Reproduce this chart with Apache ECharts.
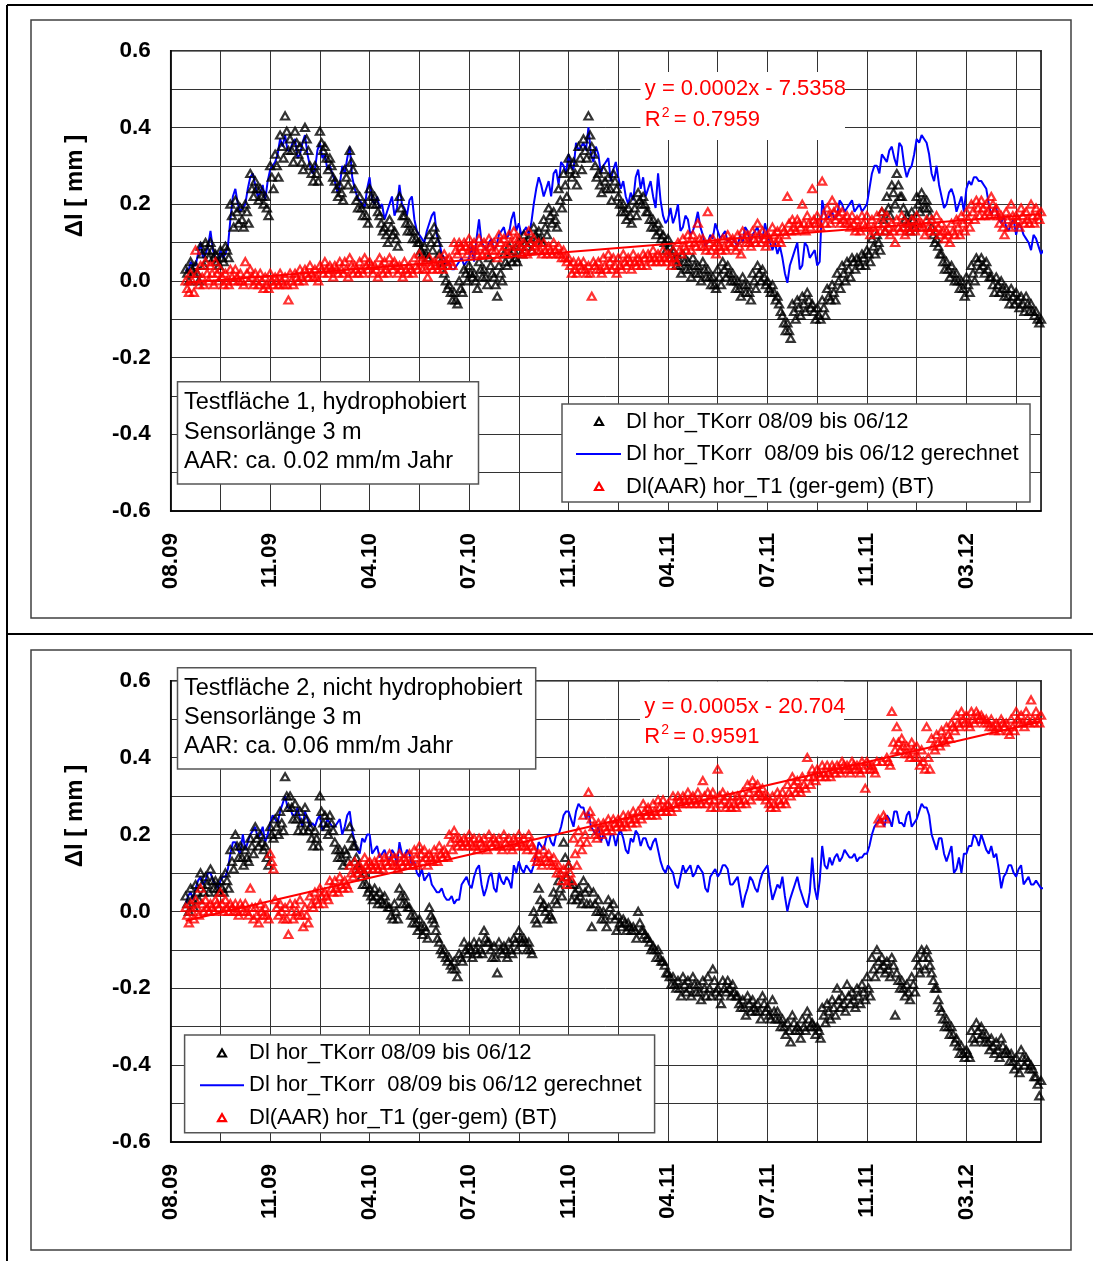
<!DOCTYPE html>
<html><head><meta charset="utf-8">
<script src="https://cdn.jsdelivr.net/npm/echarts/dist/echarts.min.js"></script>
<style>html,body{margin:0;padding:0;background:#fff;}#c{width:1093px;height:1261px;}</style>
</head><body><div id="c"></div>
<script>
// ---------------- DATA ----------------
const xTickLabels = ['08.09','11.09','04.10','07.10','11.10','04.11','07.11','11.11','03.12'];
const dayStart = 18;   // first sample (days after the 08.09 axis origin)
const dayStep = 6;     // spacing of the read-off sample groups (days)
const legendNames = ['Dl hor_TKorr 08/09 bis 06/12','Dl hor_TKorr  08/09 bis 06/12 gerechnet','Dl(AAR) hor_T1 (ger-gem) (BT)'];

// ===== Panel 1 (Testfläche 1, hydrophobiert) =====
// black triangles: upper edge (day d), middle (d+2), lower edge (d+4) of the scatter band
const top_blackHi = [
0.03,0.05,0.04,0.09,0.10,0.10,0.07,0.08,0.09,0.20,
0.21,0.19,0.20,0.28,0.26,0.24,0.22,0.30,0.33,0.38,
0.43,0.37,0.39,0.35,0.40,0.30,0.30,0.39,0.35,0.32,
0.26,0.25,0.29,0.34,0.24,0.22,0.20,0.24,0.22,0.17,
0.14,0.16,0.13,0.22,0.17,0.15,0.13,0.10,0.09,0.12,
0.14,0.07,0.02,-0.01,-0.03,0.00,0.03,0.04,0.02,0.05,
0.03,0.06,0.01,0.04,0.07,0.09,0.08,0.10,0.12,0.11,
0.14,0.13,0.16,0.19,0.18,0.24,0.28,0.32,0.31,0.35,
0.37,0.43,0.33,0.28,0.29,0.27,0.28,0.22,0.20,0.19,
0.21,0.23,0.22,0.18,0.16,0.15,0.12,0.11,0.08,0.06,
0.07,0.05,0.06,0.04,0.05,0.03,0.01,0.03,0.05,0.04,
0.02,0.00,0.01,-0.01,0.02,0.04,0.03,0.00,-0.01,-0.04,
-0.09,-0.11,-0.06,-0.05,-0.04,-0.03,-0.06,-0.07,-0.05,-0.02,
-0.01,0.02,0.04,0.05,0.06,0.06,0.07,0.08,0.11,0.12,
0.18,0.22,0.25,0.28,0.22,0.17,0.18,0.22,0.23,0.21,
0.14,0.11,0.07,0.05,0.04,0.02,0.00,0.01,0.04,0.06,
0.06,0.05,0.01,0.01,0.00,-0.02,-0.02,-0.03,-0.04,-0.04,
-0.06,-0.08,-0.10];
const top_blackMid = [
0.02,0.03,0.02,0.07,0.08,0.08,0.05,0.06,0.08,0.17,
0.18,0.16,0.18,0.24,0.24,0.22,0.19,0.27,0.30,0.35,
0.39,0.34,0.36,0.31,0.37,0.28,0.28,0.36,0.32,0.30,
0.24,0.23,0.27,0.31,0.21,0.19,0.17,0.22,0.20,0.15,
0.12,0.14,0.11,0.19,0.15,0.13,0.11,0.08,0.07,0.10,
0.12,0.05,0.00,-0.03,-0.05,-0.02,0.02,0.02,0.00,0.03,
0.01,0.04,-0.01,0.02,0.05,0.07,0.06,0.09,0.10,0.10,
0.12,0.11,0.14,0.17,0.16,0.21,0.25,0.29,0.28,0.32,
0.34,0.38,0.30,0.25,0.26,0.24,0.26,0.20,0.18,0.17,
0.19,0.21,0.20,0.16,0.14,0.13,0.10,0.09,0.06,0.04,
0.05,0.03,0.04,0.02,0.03,0.01,-0.01,0.01,0.03,0.02,
0.00,-0.02,-0.01,-0.03,0.00,0.02,0.01,-0.02,-0.03,-0.06,
-0.11,-0.13,-0.08,-0.07,-0.06,-0.05,-0.08,-0.09,-0.07,-0.04,
-0.03,0.00,0.02,0.03,0.05,0.05,0.06,0.07,0.09,0.10,
0.16,0.19,0.23,0.25,0.19,0.15,0.16,0.20,0.21,0.19,
0.12,0.09,0.05,0.03,0.02,0.00,-0.02,-0.01,0.02,0.05,
0.04,0.03,-0.01,-0.01,-0.02,-0.04,-0.04,-0.05,-0.06,-0.06,
-0.08,-0.10,-0.11];
const top_blackLo = [
0.00,0.02,0.00,0.04,0.06,0.06,0.04,0.05,0.06,0.14,
0.15,0.14,0.15,0.22,0.21,0.20,0.17,0.24,0.27,0.32,
0.34,0.31,0.33,0.29,0.34,0.26,0.26,0.34,0.29,0.27,
0.22,0.21,0.25,0.29,0.19,0.17,0.15,0.20,0.18,0.13,
0.10,0.12,0.09,0.17,0.13,0.11,0.10,0.07,0.06,0.08,
0.10,0.04,-0.02,-0.05,-0.06,-0.03,0.00,0.01,-0.02,0.01,
-0.01,0.02,-0.04,0.00,0.04,0.05,0.05,0.07,0.09,0.08,
0.11,0.10,0.12,0.15,0.14,0.19,0.22,0.27,0.25,0.29,
0.32,0.35,0.27,0.23,0.24,0.21,0.24,0.18,0.16,0.15,
0.17,0.20,0.18,0.14,0.12,0.11,0.08,0.07,0.04,0.02,
0.03,0.01,0.02,0.00,0.01,-0.01,-0.02,-0.01,0.01,0.00,
-0.02,-0.04,-0.03,-0.05,-0.02,0.00,-0.01,-0.03,-0.05,-0.08,
-0.13,-0.15,-0.10,-0.09,-0.08,-0.07,-0.10,-0.10,-0.09,-0.05,
-0.05,-0.02,0.00,0.01,0.03,0.04,0.04,0.05,0.07,0.08,
0.13,0.17,0.20,0.22,0.16,0.13,0.14,0.18,0.19,0.17,
0.10,0.07,0.03,0.01,0.00,-0.02,-0.04,-0.03,0.00,0.03,
0.02,0.01,-0.03,-0.03,-0.04,-0.06,-0.06,-0.07,-0.08,-0.08,
-0.09,-0.11,-0.11];
// blue line: readings at day d and d+3
const top_blueA = [
0.03,0.05,0.04,0.10,0.07,0.13,0.06,0.08,0.07,0.16,
0.24,0.18,0.20,0.27,0.25,0.23,0.21,0.29,0.31,0.37,
0.38,0.34,0.37,0.33,0.38,0.30,0.29,0.36,0.33,0.30,
0.26,0.25,0.28,0.35,0.24,0.21,0.19,0.27,0.20,0.19,
0.16,0.20,0.17,0.25,0.19,0.21,0.16,0.12,0.10,0.15,
0.18,0.10,0.06,0.05,0.03,0.05,0.04,0.06,0.05,0.16,
0.09,0.10,0.08,0.12,0.14,0.12,0.18,0.15,0.13,0.12,
0.20,0.27,0.22,0.26,0.28,0.25,0.30,0.33,0.29,0.34,
0.36,0.40,0.31,0.33,0.30,0.32,0.29,0.27,0.26,0.20,
0.21,0.29,0.27,0.24,0.22,0.28,0.17,0.16,0.15,0.20,
0.14,0.16,0.13,0.18,0.12,0.10,0.11,0.13,0.12,0.10,
0.11,0.09,0.10,0.13,0.12,0.14,0.11,0.12,0.08,0.07,
0.06,-0.005,0.06,0.10,0.04,0.09,0.07,0.04,0.21,0.16,
0.18,0.17,0.20,0.19,0.21,0.19,0.18,0.20,0.28,0.30,
0.33,0.31,0.35,0.30,0.35,0.27,0.30,0.37,0.38,0.36,
0.28,0.30,0.22,0.20,0.24,0.18,0.22,0.24,0.25,0.27,
0.26,0.24,0.17,0.19,0.15,0.14,0.15,0.12,0.14,0.11,
0.08,0.11,0.07];
const top_blueB = [
0.02,0.04,0.07,0.06,0.09,0.08,0.05,0.06,0.09,0.22,
0.20,0.19,0.24,0.28,0.22,0.25,0.26,0.30,0.33,0.35,
0.34,0.36,0.32,0.36,0.33,0.28,0.34,0.32,0.29,0.28,
0.23,0.30,0.32,0.27,0.22,0.20,0.24,0.21,0.22,0.20,
0.18,0.22,0.19,0.20,0.17,0.22,0.13,0.11,0.13,0.17,
0.12,0.07,0.04,0.03,0.04,0.06,0.05,0.09,0.11,0.10,
0.08,0.11,0.09,0.13,0.11,0.16,0.13,0.12,0.14,0.15,
0.24,0.25,0.24,0.22,0.29,0.31,0.28,0.30,0.36,0.35,
0.34,0.33,0.35,0.28,0.31,0.26,0.31,0.24,0.22,0.23,
0.27,0.24,0.22,0.26,0.19,0.21,0.15,0.19,0.17,0.13,
0.17,0.12,0.15,0.14,0.09,0.12,0.15,0.11,0.13,0.11,
0.10,0.12,0.14,0.10,0.13,0.11,0.15,0.10,0.10,0.09,
0.02,0.04,0.08,0.03,0.10,0.06,0.08,0.05,0.18,0.17,
0.16,0.21,0.18,0.20,0.18,0.20,0.19,0.24,0.30,0.28,
0.32,0.34,0.32,0.36,0.30,0.29,0.33,0.36,0.37,0.33,
0.26,0.25,0.19,0.23,0.22,0.20,0.18,0.26,0.27,0.26,
0.25,0.20,0.19,0.16,0.17,0.13,0.16,0.15,0.12,0.10,
0.12,0.09,0.08];
// red triangles: upper / middle / lower readings
const top_redHi = [
0.00,0.02,0.08,0.04,0.05,0.04,0.05,0.03,0.02,0.03,
0.03,0.02,0.05,0.03,0.02,0.02,0.01,0.02,0.01,0.02,
0.01,0.02,0.02,0.03,0.03,0.04,0.03,0.04,0.05,0.04,
0.04,0.05,0.05,0.06,0.04,0.05,0.06,0.05,0.04,0.06,
0.05,0.06,0.05,0.04,0.05,0.04,0.06,0.07,0.05,0.06,
0.05,0.06,0.07,0.06,0.10,0.10,0.10,0.11,0.10,0.11,
0.10,0.11,0.10,0.12,0.11,0.12,0.13,0.11,0.10,0.13,
0.11,0.10,0.10,0.09,0.10,0.09,0.08,0.06,0.05,0.05,
0.05,0.04,0.05,0.05,0.06,0.07,0.06,0.06,0.07,0.06,
0.07,0.06,0.07,0.07,0.08,0.07,0.08,0.07,0.08,0.10,
0.11,0.12,0.12,0.15,0.11,0.18,0.11,0.10,0.11,0.12,
0.11,0.12,0.13,0.12,0.13,0.15,0.13,0.12,0.14,0.13,
0.14,0.22,0.16,0.16,0.20,0.17,0.24,0.17,0.26,0.19,
0.21,0.19,0.18,0.17,0.17,0.16,0.17,0.17,0.16,0.17,
0.18,0.17,0.15,0.16,0.17,0.15,0.16,0.17,0.15,0.16,
0.16,0.17,0.15,0.13,0.15,0.16,0.17,0.18,0.20,0.21,
0.21,0.20,0.22,0.19,0.17,0.18,0.20,0.17,0.19,0.18,
0.20,0.19,0.18];
const top_redMid = [
-0.02,0.00,0.02,0.01,0.02,0.02,0.02,0.01,0.00,0.01,
0.01,0.00,0.02,0.01,0.00,0.00,-0.01,0.00,0.00,0.00,
-0.01,0.00,0.01,0.01,0.02,0.02,0.01,0.03,0.03,0.03,
0.03,0.03,0.03,0.04,0.03,0.03,0.04,0.04,0.03,0.04,
0.03,0.04,0.04,0.03,0.03,0.03,0.04,0.05,0.03,0.04,
0.04,0.04,0.05,0.05,0.08,0.09,0.09,0.09,0.08,0.09,
0.08,0.09,0.08,0.10,0.09,0.10,0.11,0.09,0.08,0.10,
0.09,0.08,0.08,0.08,0.08,0.07,0.06,0.04,0.03,0.04,
0.03,0.02,0.04,0.03,0.04,0.05,0.04,0.04,0.05,0.05,
0.05,0.05,0.06,0.06,0.06,0.06,0.06,0.06,0.06,0.08,
0.09,0.10,0.10,0.11,0.09,0.10,0.09,0.09,0.09,0.10,
0.10,0.09,0.11,0.10,0.11,0.12,0.11,0.11,0.12,0.11,
0.13,0.15,0.14,0.15,0.15,0.15,0.16,0.15,0.17,0.17,
0.18,0.17,0.16,0.15,0.15,0.14,0.15,0.14,0.14,0.15,
0.15,0.14,0.13,0.14,0.14,0.14,0.14,0.15,0.14,0.14,
0.14,0.14,0.13,0.12,0.13,0.14,0.15,0.16,0.18,0.19,
0.19,0.18,0.20,0.17,0.14,0.16,0.17,0.16,0.17,0.16,
0.17,0.17,0.17];
const top_redLo = [
-0.03,-0.03,-0.01,-0.01,0.00,-0.01,0.00,-0.01,-0.01,0.00,
0.00,-0.01,0.00,-0.01,-0.01,-0.02,-0.02,-0.01,-0.01,-0.01,
-0.05,-0.01,0.00,0.00,0.01,0.01,0.00,0.02,0.02,0.01,
0.02,0.02,0.01,0.02,0.02,0.02,0.03,0.02,0.01,0.02,
0.02,0.03,0.02,0.01,0.02,0.02,0.03,0.03,0.01,0.03,
0.03,0.03,0.04,0.04,0.07,0.08,0.07,0.08,0.07,0.07,
0.07,0.08,0.06,0.08,0.07,0.08,0.09,0.07,0.07,0.08,
0.08,0.07,0.07,0.07,0.07,0.06,0.05,0.02,0.02,0.03,
0.02,-0.04,0.03,0.02,0.03,0.03,0.02,0.03,0.04,0.03,
0.04,0.04,0.04,0.05,0.05,0.05,0.05,0.04,0.05,0.07,
0.08,0.08,0.09,0.09,0.08,0.08,0.07,0.08,0.08,0.09,
0.08,0.07,0.10,0.09,0.10,0.10,0.09,0.10,0.10,0.10,
0.12,0.13,0.13,0.14,0.13,0.14,0.15,0.14,0.15,0.15,
0.16,0.15,0.15,0.14,0.13,0.13,0.14,0.12,0.13,0.13,
0.13,0.12,0.10,0.13,0.12,0.13,0.13,0.14,0.12,0.13,
0.13,0.12,0.11,0.10,0.12,0.12,0.13,0.14,0.16,0.17,
0.17,0.17,0.18,0.15,0.12,0.14,0.15,0.14,0.15,0.15,
0.15,0.16,0.16];

// ===== Panel 2 (Testfläche 2, nicht hydrophobiert) =====
const bot_blackHi = [
0.04,0.06,0.07,0.10,0.09,0.11,0.08,0.08,0.10,0.16,
0.20,0.17,0.16,0.19,0.22,0.20,0.17,0.22,0.24,0.26,
0.35,0.30,0.28,0.26,0.27,0.22,0.21,0.30,0.25,0.25,
0.18,0.16,0.16,0.22,0.17,0.11,0.10,0.06,0.06,0.05,
0.04,0.01,0.02,0.06,0.04,0.01,-0.01,-0.02,-0.04,0.01,
-0.03,-0.08,-0.10,-0.12,-0.13,-0.11,-0.08,-0.09,-0.08,-0.08,
-0.05,-0.08,-0.09,-0.08,-0.09,-0.08,-0.07,-0.05,-0.07,-0.08,
0.00,0.06,0.02,0.01,0.05,0.08,0.18,0.12,0.07,0.06,
0.08,0.06,0.05,0.03,0.00,0.03,0.02,-0.01,-0.02,-0.03,
-0.04,0.00,-0.05,-0.07,-0.09,-0.10,-0.13,-0.16,-0.17,-0.18,
-0.17,-0.18,-0.17,-0.19,-0.18,-0.17,-0.15,-0.20,-0.18,-0.18,
-0.19,-0.22,-0.23,-0.22,-0.23,-0.24,-0.22,-0.25,-0.23,-0.26,
-0.28,-0.29,-0.27,-0.30,-0.28,-0.26,-0.29,-0.30,-0.25,-0.24,
-0.23,-0.20,-0.22,-0.19,-0.21,-0.20,-0.19,-0.17,-0.12,-0.10,
-0.12,-0.13,-0.12,-0.16,-0.18,-0.19,-0.17,-0.12,-0.10,-0.10,
-0.16,-0.20,-0.26,-0.28,-0.30,-0.33,-0.35,-0.36,-0.31,-0.29,
-0.30,-0.32,-0.33,-0.34,-0.33,-0.36,-0.37,-0.38,-0.36,-0.38,
-0.40,-0.43,-0.44];
const bot_blackMid = [
0.02,0.03,0.05,0.07,0.07,0.08,0.06,0.06,0.08,0.13,
0.17,0.14,0.14,0.17,0.19,0.18,0.14,0.20,0.22,0.23,
0.30,0.27,0.24,0.23,0.24,0.19,0.19,0.26,0.22,0.23,
0.16,0.14,0.15,0.19,0.14,0.09,0.07,0.04,0.04,0.03,
0.02,-0.01,0.00,0.04,0.02,-0.01,-0.03,-0.04,-0.05,-0.01,
-0.05,-0.10,-0.12,-0.14,-0.15,-0.12,-0.10,-0.10,-0.10,-0.10,
-0.07,-0.10,-0.12,-0.10,-0.10,-0.10,-0.08,-0.07,-0.08,-0.10,
-0.02,0.03,0.00,-0.01,0.03,0.06,0.14,0.07,0.05,0.04,
0.05,0.02,0.02,0.00,-0.02,0.01,-0.02,-0.03,-0.03,-0.04,
-0.05,-0.03,-0.06,-0.08,-0.10,-0.12,-0.14,-0.17,-0.19,-0.20,
-0.19,-0.20,-0.19,-0.21,-0.20,-0.20,-0.18,-0.22,-0.20,-0.20,
-0.21,-0.24,-0.25,-0.24,-0.25,-0.26,-0.24,-0.27,-0.26,-0.28,
-0.30,-0.31,-0.29,-0.31,-0.30,-0.28,-0.30,-0.31,-0.27,-0.26,
-0.25,-0.23,-0.24,-0.22,-0.23,-0.22,-0.21,-0.20,-0.15,-0.13,
-0.14,-0.15,-0.14,-0.18,-0.20,-0.21,-0.19,-0.14,-0.12,-0.12,
-0.18,-0.23,-0.28,-0.30,-0.32,-0.35,-0.37,-0.37,-0.33,-0.31,
-0.32,-0.34,-0.35,-0.36,-0.35,-0.37,-0.39,-0.40,-0.38,-0.39,
-0.41,-0.45,-0.45];
const bot_blackLo = [
0.00,0.01,0.03,0.05,0.05,0.06,0.05,0.05,0.06,0.11,
0.14,0.12,0.13,0.15,0.17,0.16,0.12,0.19,0.20,0.21,
0.27,0.24,0.21,0.21,0.21,0.17,0.17,0.23,0.20,0.21,
0.14,0.12,0.13,0.17,0.12,0.07,0.05,0.03,0.02,0.02,
0.01,-0.02,-0.02,0.02,0.01,-0.03,-0.05,-0.06,-0.07,-0.02,
-0.07,-0.11,-0.13,-0.15,-0.17,-0.13,-0.11,-0.12,-0.11,-0.11,
-0.08,-0.12,-0.16,-0.11,-0.12,-0.11,-0.10,-0.08,-0.10,-0.11,
-0.03,0.01,-0.02,-0.02,0.02,0.04,0.09,0.03,0.03,0.02,
0.02,-0.04,0.00,-0.02,-0.04,-0.01,-0.05,-0.04,-0.05,-0.05,
-0.07,-0.05,-0.07,-0.10,-0.12,-0.13,-0.16,-0.19,-0.20,-0.22,
-0.21,-0.22,-0.21,-0.23,-0.22,-0.22,-0.21,-0.24,-0.21,-0.22,
-0.22,-0.25,-0.27,-0.26,-0.26,-0.28,-0.26,-0.28,-0.28,-0.30,
-0.32,-0.34,-0.31,-0.33,-0.31,-0.30,-0.32,-0.33,-0.29,-0.28,
-0.27,-0.25,-0.26,-0.24,-0.25,-0.24,-0.23,-0.22,-0.17,-0.15,
-0.16,-0.17,-0.27,-0.20,-0.22,-0.23,-0.21,-0.16,-0.15,-0.14,
-0.20,-0.25,-0.30,-0.32,-0.34,-0.37,-0.38,-0.38,-0.34,-0.33,
-0.34,-0.36,-0.37,-0.38,-0.37,-0.39,-0.41,-0.42,-0.40,-0.41,
-0.43,-0.48,-0.46];
const bot_blueA = [
0.02,0.05,0.06,0.09,0.08,0.10,0.07,0.08,0.09,0.15,
0.18,0.15,0.16,0.20,0.22,0.20,0.18,0.23,0.24,0.26,
0.30,0.27,0.25,0.24,0.26,0.22,0.22,0.25,0.22,0.23,
0.22,0.24,0.22,0.26,0.18,0.15,0.18,0.20,0.16,0.14,
0.16,0.13,0.15,0.18,0.14,0.15,0.13,0.09,0.08,0.10,
0.06,0.05,0.04,0.03,0.02,0.03,0.08,0.07,0.09,0.12,
0.04,0.09,0.06,0.10,0.07,0.08,0.12,0.13,0.10,0.11,
0.12,0.18,0.16,0.20,0.17,0.20,0.25,0.26,0.22,0.28,
0.27,0.26,0.21,0.22,0.20,0.17,0.20,0.20,0.19,0.15,
0.18,0.20,0.19,0.17,0.18,0.16,0.11,0.12,0.10,0.06,
0.12,0.11,0.09,0.12,0.10,0.05,0.10,0.09,0.12,0.11,
0.07,0.09,0.01,0.06,0.08,0.05,0.10,0.12,0.03,0.07,
0.09,0.00,0.05,0.09,0.04,0.01,0.14,0.03,0.17,0.11,
0.12,0.15,0.14,0.15,0.14,0.13,0.14,0.15,0.20,0.23,
0.24,0.25,0.22,0.26,0.23,0.25,0.22,0.24,0.28,0.27,
0.20,0.16,0.19,0.13,0.17,0.11,0.10,0.15,0.17,0.19,
0.20,0.16,0.17,0.15,0.06,0.10,0.12,0.09,0.12,0.08,
0.07,0.08,0.06];
const bot_blueB = [
0.04,0.03,0.08,0.07,0.10,0.08,0.06,0.09,0.11,0.18,
0.16,0.20,0.18,0.21,0.19,0.22,0.20,0.25,0.23,0.28,
0.27,0.25,0.27,0.22,0.24,0.23,0.24,0.21,0.24,0.22,
0.23,0.20,0.25,0.21,0.16,0.19,0.20,0.15,0.17,0.15,
0.14,0.16,0.12,0.15,0.16,0.12,0.10,0.11,0.09,0.07,
0.05,0.06,0.03,0.04,0.03,0.07,0.09,0.06,0.11,0.07,
0.06,0.10,0.05,0.08,0.09,0.06,0.10,0.11,0.12,0.10,
0.15,0.17,0.19,0.18,0.20,0.22,0.26,0.24,0.26,0.27,
0.24,0.22,0.20,0.18,0.19,0.20,0.17,0.21,0.16,0.19,
0.21,0.17,0.19,0.16,0.19,0.13,0.10,0.11,0.07,0.09,
0.10,0.12,0.10,0.11,0.06,0.09,0.11,0.10,0.12,0.07,
0.08,0.05,0.04,0.09,0.06,0.08,0.11,0.07,0.05,0.06,
0.04,0.03,0.07,0.06,0.02,0.05,0.06,0.08,0.12,0.14,
0.14,0.13,0.16,0.14,0.15,0.14,0.15,0.17,0.22,0.24,
0.22,0.24,0.26,0.23,0.22,0.26,0.23,0.26,0.27,0.25,
0.18,0.19,0.15,0.15,0.10,0.14,0.15,0.17,0.20,0.17,
0.18,0.15,0.14,0.11,0.09,0.12,0.10,0.11,0.07,0.09,
0.07,0.07,0.06];
const bot_redHi = [
0.01,0.02,0.03,0.06,0.03,0.02,0.03,0.05,0.03,0.02,
0.02,0.02,0.02,0.06,0.01,0.02,0.01,0.15,0.03,0.02,
0.01,0.02,0.02,0.03,0.01,0.04,0.05,0.06,0.05,0.08,
0.08,0.09,0.08,0.12,0.13,0.12,0.14,0.13,0.13,0.14,
0.14,0.15,0.14,0.15,0.14,0.15,0.16,0.17,0.16,0.15,
0.16,0.17,0.16,0.20,0.21,0.19,0.19,0.20,0.19,0.19,
0.19,0.20,0.19,0.19,0.20,0.19,0.19,0.20,0.19,0.20,
0.16,0.15,0.16,0.15,0.14,0.12,0.11,0.12,0.19,0.21,
0.25,0.31,0.22,0.23,0.23,0.24,0.24,0.24,0.25,0.25,
0.26,0.26,0.28,0.27,0.28,0.29,0.29,0.28,0.30,0.30,
0.30,0.31,0.30,0.31,0.34,0.31,0.31,0.37,0.31,0.30,
0.30,0.30,0.31,0.33,0.34,0.33,0.32,0.30,0.30,0.31,
0.31,0.33,0.35,0.34,0.35,0.40,0.37,0.37,0.38,0.38,
0.38,0.38,0.39,0.38,0.39,0.38,0.39,0.39,0.38,0.39,
0.39,0.40,0.52,0.48,0.45,0.43,0.44,0.43,0.42,0.48,
0.45,0.46,0.47,0.48,0.49,0.51,0.52,0.51,0.52,0.52,
0.51,0.50,0.50,0.49,0.50,0.49,0.50,0.52,0.51,0.52,
0.55,0.52,0.51];
const bot_redMid = [
-0.01,0.00,0.01,0.02,0.01,0.01,0.02,0.02,0.01,0.01,
0.00,0.01,0.00,0.01,-0.01,0.00,-0.01,0.13,0.01,0.00,
-0.02,0.00,0.00,-0.01,-0.01,0.02,0.03,0.04,0.04,0.06,
0.06,0.07,0.07,0.10,0.11,0.11,0.12,0.12,0.12,0.12,
0.13,0.13,0.12,0.13,0.13,0.13,0.14,0.15,0.14,0.14,
0.14,0.15,0.15,0.18,0.19,0.18,0.18,0.18,0.17,0.18,
0.17,0.18,0.18,0.17,0.18,0.17,0.18,0.18,0.17,0.18,
0.14,0.13,0.14,0.13,0.12,0.10,0.09,0.10,0.15,0.18,
0.20,0.26,0.20,0.21,0.22,0.22,0.23,0.23,0.23,0.24,
0.24,0.25,0.26,0.26,0.26,0.27,0.27,0.27,0.28,0.29,
0.29,0.29,0.29,0.29,0.30,0.29,0.29,0.30,0.29,0.28,
0.28,0.29,0.29,0.31,0.32,0.31,0.30,0.28,0.28,0.29,
0.29,0.31,0.33,0.32,0.33,0.35,0.35,0.36,0.36,0.36,
0.37,0.37,0.38,0.37,0.38,0.37,0.37,0.38,0.37,0.24,
0.25,0.39,0.44,0.44,0.43,0.41,0.42,0.40,0.39,0.40,
0.43,0.44,0.45,0.46,0.48,0.49,0.50,0.49,0.50,0.51,
0.50,0.49,0.48,0.48,0.49,0.47,0.48,0.50,0.49,0.50,
0.50,0.50,0.50];
const bot_redLo = [
-0.03,-0.02,-0.01,0.00,0.00,0.00,0.01,0.00,0.00,0.00,
-0.01,0.00,-0.01,-0.02,-0.03,-0.01,-0.02,0.11,-0.01,-0.02,
-0.06,-0.02,-0.01,-0.04,-0.03,0.01,0.02,0.02,0.03,0.05,
0.05,0.06,0.06,0.09,0.10,0.10,0.11,0.11,0.11,0.11,
0.12,0.12,0.11,0.12,0.12,0.12,0.12,0.13,0.12,0.13,
0.13,0.14,0.14,0.16,0.17,0.17,0.17,0.17,0.16,0.17,
0.16,0.17,0.17,0.16,0.17,0.16,0.17,0.17,0.16,0.17,
0.13,0.12,0.13,0.12,0.10,0.08,0.07,0.08,0.12,0.16,
0.18,0.24,0.19,0.20,0.21,0.21,0.22,0.22,0.22,0.23,
0.23,0.24,0.25,0.25,0.25,0.26,0.26,0.26,0.27,0.28,
0.28,0.28,0.28,0.28,0.28,0.27,0.27,0.28,0.27,0.27,
0.27,0.28,0.28,0.29,0.30,0.30,0.29,0.27,0.27,0.28,
0.28,0.30,0.31,0.31,0.32,0.33,0.34,0.35,0.35,0.35,
0.36,0.36,0.37,0.36,0.37,0.36,0.32,0.37,0.36,0.23,
0.24,0.38,0.42,0.42,0.41,0.40,0.40,0.38,0.37,0.37,
0.42,0.43,0.44,0.45,0.47,0.48,0.49,0.48,0.49,0.50,
0.49,0.48,0.47,0.47,0.48,0.46,0.47,0.49,0.48,0.49,
0.49,0.49,0.49];

// ---------------- BUILD ----------------
function dayOf(i){ return dayStart + i*dayStep; }
function linePts(a, b){ const o=[]; for(let i=0;i<a.length;i++){ o.push([dayOf(i),a[i]]); o.push([dayOf(i)+dayStep/2,b[i]]); } return o; }
function bandPts(hi, mid, lo){ const o=[]; for(let i=0;i<hi.length;i++){ const d=dayOf(i); o.push([d,hi[i]]); o.push([d+2,mid[i]]); o.push([d+4,lo[i]]); } return o; }
function trend(p){
  let n=p.length,sx=0,sy=0,sxx=0,sxy=0;
  for(const [x,y] of p){sx+=x;sy+=y;sxx+=x*x;sxy+=x*y;}
  const b=(n*sxy-sx*sy)/(n*sxx-sx*sx), a=(sy-b*sx)/n;
  let x0=Infinity,x1=-Infinity; for(const [x] of p){ if(x<x0)x0=x; if(x>x1)x1=x; }
  x1=Math.min(x1,1050);
  return [[x0,a+b*x0],[x1,a+b*x1]];
}

const AX_FONT = 'Liberation Sans, Arial, sans-serif';
const TX_FONT = 'Liberation Sans, Arial, sans-serif';
const grids = [
  {left:170.7, top:50.7, width:870.3, height:460.3},
  {left:170.7, top:680.7, width:870.3, height:461.3}
].map(g=>Object.assign(g,{show:true, borderColor:'#000', borderWidth:1.5, backgroundColor:'transparent', containLabel:false, outerBoundsMode:'none'}));

function xAx(gi){ return {
  type:'value', gridIndex:gi, min:0, max:1050, interval:60,
  axisLine:{show:true, onZero:false, lineStyle:{color:'#000', width:1.5}},
  axisTick:{show:false},
  splitLine:{show:true, lineStyle:{color:'#333', width:1}},
  axisLabel:{rotate:90, margin:22, color:'#000', fontFamily:AX_FONT, fontWeight:'bold', fontSize:22.5,
    formatter:v=>{ if(v%120!==0) return ''; const k=v/120; return xTickLabels[k]||''; }}
};}
function yAx(gi){ return {
  type:'value', gridIndex:gi, min:-0.6, max:0.6, interval:0.1,
  axisLine:{show:true, onZero:false, lineStyle:{color:'#000', width:1.5}},
  axisTick:{show:false},
  splitLine:{show:true, lineStyle:{color:'#333', width:1}},
  axisLabel:{margin:20, color:'#000', fontFamily:AX_FONT, fontWeight:'bold', fontSize:22.5,
    formatter:v=>{ const t=Math.round(v*10); return (t%2===0)?(t/10).toFixed(1):''; }}
};}

function panelSeries(gi, hiB, midB, loB, blueA, blueB, hiR, midR, loR){
  const red = bandPts(hiR, midR, loR);
  const tri = {symbol:'triangle', symbolSize:[8,7]};
  return [
    {name:legendNames[1], type:'line', xAxisIndex:gi, yAxisIndex:gi, data:linePts(blueA, blueB), showSymbol:false, symbol:'none',
     lineStyle:{color:'#0000ff', width:2}, z:2},
    Object.assign({name:legendNames[0], type:'scatter', xAxisIndex:gi, yAxisIndex:gi, data:bandPts(hiB, midB, loB),
     itemStyle:{color:'rgba(0,0,0,0)', borderColor:'#000', borderWidth:2.2}, z:3}, tri),
    Object.assign({name:legendNames[2], type:'scatter', xAxisIndex:gi, yAxisIndex:gi, data:red,
     itemStyle:{color:'rgba(0,0,0,0)', borderColor:'#ff0000', borderWidth:2.2}, z:4}, tri),
    {name:'trend'+gi, type:'line', xAxisIndex:gi, yAxisIndex:gi, data:trend(red), symbol:'none',
     lineStyle:{color:'#ff0000', width:2}, z:5}
  ];
}

function txt(x,y,s,opt){ return Object.assign({type:'text', x:x, y:y, z:100,
  style:Object.assign({text:s, fill:'#000', font:'22px '+TX_FONT, textAlign:'left', textVerticalAlign:'middle'}, (opt&&opt.style)||{})},
  opt&&opt.rotation!==undefined?{rotation:opt.rotation}:{}, opt&&opt.z!==undefined?{z:opt.z}:{}); }
function triMark(cx,cy,color){ return {type:'polygon', z:100, shape:{points:[[cx-4,cy+3.5],[cx+4,cy+3.5],[cx,cy-3.5]]}, style:{fill:'none', stroke:color, lineWidth:2.2}}; }

function legendBox(x,y,w,h,rows,mx,lx0,lx1,tx){
  return [
    {type:'rect', z:99, shape:{x:x,y:y,width:w,height:h}, style:{fill:'#fff', stroke:'#555', lineWidth:1.5}},
    triMark(mx, rows[0], '#000'),
    {type:'line', z:100, shape:{x1:lx0,y1:rows[1],x2:lx1,y2:rows[1]}, style:{stroke:'#0000ff', lineWidth:2}},
    triMark(mx, rows[2], '#ff0000'),
    txt(tx, rows[0], legendNames[0]), txt(tx, rows[1], legendNames[1]), txt(tx, rows[2], legendNames[2])
  ];
}
function infoBox(x,y,w,h,lines,ys){
  const out=[{type:'rect', z:99, shape:{x:x,y:y,width:w,height:h}, style:{fill:'#fff', stroke:'#555', lineWidth:1.5}}];
  lines.forEach((s,i)=>out.push(txt(x+6.5, ys[i], s, {style:{font:'23.5px '+TX_FONT}})));
  return out;
}
function eqBlock(x,y,w,h,eq,r2,ey,ry){
  const red={fill:'#ff0000'};
  return [
    {type:'rect', z:1, shape:{x:x,y:y,width:w,height:h}, style:{fill:'#fff'}},
    txt(x+4.3, ey, eq, {style:red}),
    txt(x+4.3, ry, 'R', {style:red}),
    txt(x+21.2, ry-7, '2', {style:{fill:'#ff0000', font:'14px '+TX_FONT}}),
    txt(x+27.2, ry, ' = '+r2, {style:red})
  ];
}

const graphics = [
  {type:'line', z:100, shape:{x1:7,y1:5,x2:1093,y2:5}, style:{stroke:'#000', lineWidth:2}},
  {type:'line', z:100, shape:{x1:7,y1:5,x2:7,y2:1261}, style:{stroke:'#000', lineWidth:2}},
  {type:'line', z:100, shape:{x1:7,y1:634,x2:1093,y2:634}, style:{stroke:'#000', lineWidth:2}},
  {type:'rect', z:100, shape:{x:31,y:20,width:1040,height:598}, style:{fill:'none', stroke:'#404040', lineWidth:1.5}},
  {type:'rect', z:100, shape:{x:31,y:650,width:1040,height:600}, style:{fill:'none', stroke:'#404040', lineWidth:1.5}},
  txt(75, 186, 'Δl [ mm ]', {rotation:Math.PI/2, style:{font:'bold 24px '+AX_FONT, textAlign:'center'}}),
  txt(75, 816, 'Δl [ mm ]', {rotation:Math.PI/2, style:{font:'bold 24px '+AX_FONT, textAlign:'center'}}),
  ...eqBlock(640.5, 72, 204.5, 68, 'y = 0.0002x - 7.5358', '0.7959', 89.3, 120),
  ...eqBlock(640, 681.5, 204, 75, 'y = 0.0005x - 20.704', '0.9591', 706.7, 736.7),
  ...infoBox(177.5, 381.7, 301, 102.3, ['Testfläche 1, hydrophobiert','Sensorlänge 3 m','AAR: ca. 0.02 mm/m Jahr'], [403, 432.7, 462]),
  ...infoBox(177.5, 667.7, 358.2, 101.3, ['Testfläche 2, nicht hydrophobiert','Sensorlänge 3 m','AAR: ca. 0.06 mm/m Jahr'], [689, 718, 746.7]),
  ...legendBox(562, 404, 468, 98, [421.5, 454, 486.5], 599, 576, 621, 626),
  ...legendBox(184.6, 1035, 470, 97.7, [1053, 1085.3, 1117.7], 222, 200, 244, 249)
];

const chart = echarts.init(document.getElementById('c'), null, {renderer:'canvas'});
chart.setOption({
  animation:false,
  backgroundColor:'#fff',
  grid:grids,
  xAxis:[xAx(0), xAx(1)],
  yAxis:[yAx(0), yAx(1)],
  series:[
    ...panelSeries(0, top_blackHi, top_blackMid, top_blackLo, top_blueA, top_blueB, top_redHi, top_redMid, top_redLo),
    ...panelSeries(1, bot_blackHi, bot_blackMid, bot_blackLo, bot_blueA, bot_blueB, bot_redHi, bot_redMid, bot_redLo)
  ],
  graphic:{elements:graphics}
});
</script>
</body></html>
